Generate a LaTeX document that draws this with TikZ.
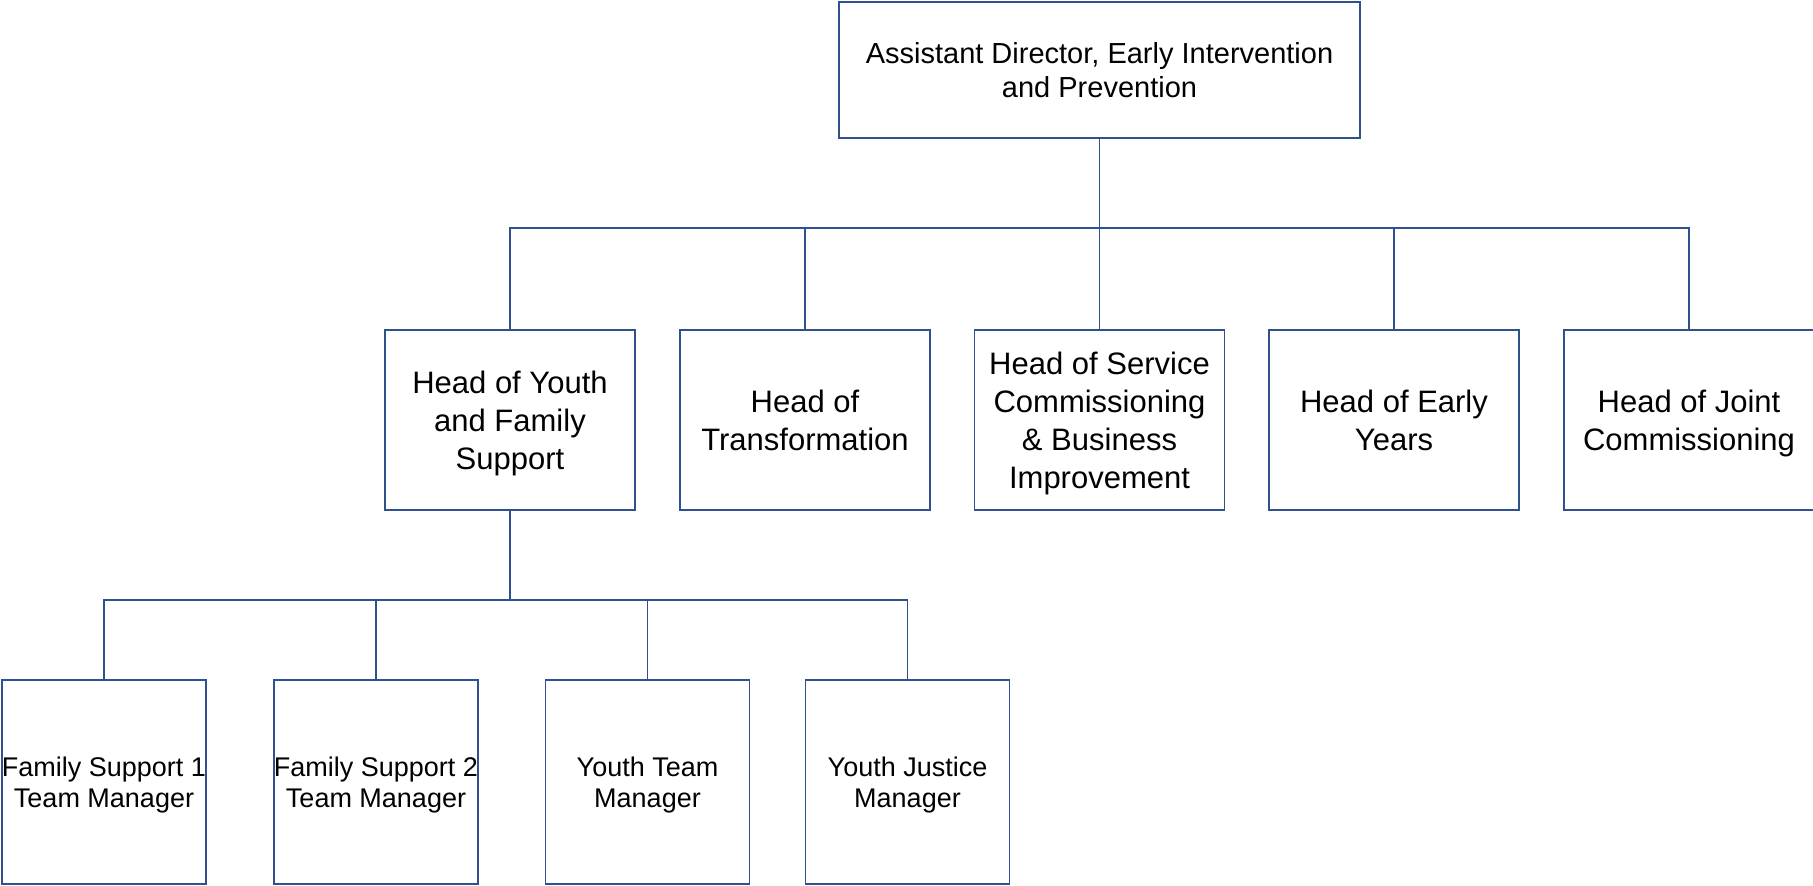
\documentclass[tikz,border=0pt]{standalone}
\usepackage{fontspec}
\setmainfont{Liberation Sans}
\definecolor{linecol}{RGB}{47,82,143}
\newcommand\nodepth[1]{\raisebox{0pt}[\height][0pt]{#1}}
\begin{document}
\begin{tikzpicture}[x=0.5pt,y=-0.5pt,
  box/.style={draw=linecol,line width=0.8pt,fill=white,rectangle,align=center,inner sep=0pt,text=black},
  topbox/.style={box,minimum width=260.5pt,minimum height=68pt,font=\fontsize{14.5}{16.8}\selectfont},
  headbox/.style={box,minimum width=125pt,minimum height=90pt,font=\fontsize{15.5}{19}\selectfont},
  mgrbox/.style={box,minimum width=102pt,minimum height=102pt,font=\fontsize{13.5}{15.8}\selectfont},
  conn/.style={draw=linecol,line width=0.8pt}]
\useasboundingbox (0,0) rectangle (1813,885);
\node[topbox] (top) at (1099.5,70) {Assistant Director, Early Intervention\\\nodepth{and Prevention}};
\node[headbox] (h1) at (510,420) {Head of Youth\\and Family\\\nodepth{Support}};
\node[headbox] (h2) at (805,420) {Head of\\\nodepth{Transformation}};
\node[headbox] (h3) at (1099.5,420) {Head of Service\\Commissioning\\\& Business\\\nodepth{Improvement}};
\node[headbox] (h4) at (1394,420) {Head of Early\\\nodepth{Years}};
\node[headbox] (h5) at (1689,420) {Head of Joint\\\nodepth{Commissioning}};
\node[mgrbox] (m1) at (104,782) {Family Support 1\\\nodepth{Team Manager}};
\node[mgrbox] (m2) at (376,782) {Family Support 2\\\nodepth{Team Manager}};
\node[mgrbox] (m3) at (647.5,782) {Youth Team\\\nodepth{Manager}};
\node[mgrbox] (m4) at (907.5,782) {Youth Justice\\\nodepth{Manager}};
\coordinate (bus) at (0,228);
\coordinate (sbus) at (0,600);
\draw[conn] (top.south) -- (top.south |- bus);
\draw[conn] (h1.north) |- (h5.north |- bus) -- (h5.north);
\draw[conn] (h2.north) -- (h2.north |- bus);
\draw[conn] (h3.north) -- (h3.north |- bus);
\draw[conn] (h4.north) -- (h4.north |- bus);
\draw[conn] (h1.south) -- (h1.south |- sbus);
\draw[conn] (m1.north) |- (m4.north |- sbus) -- (m4.north);
\draw[conn] (m2.north) -- (m2.north |- sbus);
\draw[conn] (m3.north) -- (m3.north |- sbus);
\end{tikzpicture}
\end{document}
